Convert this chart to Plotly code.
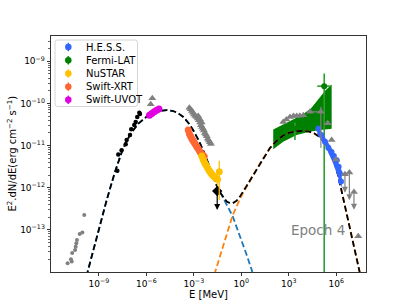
import numpy as np
import plotly.graph_objects as go

# ---------------- model curves (log10 E [MeV], log10 E^2 dN/dE) ----------------
tot_logE = [-9.78, -9.4, -9.03, -8.5, -8.0, -7.5, -7.0, -6.5, -6.0, -5.5, -5.0, -4.7, -4.3, -4.0,
            -3.66, -3.3, -3.0, -2.7, -2.4, -2.2, -1.98, -1.77, -1.55, -1.3, -1.1, -0.92, -0.75,
            -0.55, -0.3, -0.05, 0.3, 0.76, 1.3, 1.81, 2.3, 2.65, 3.0, 3.5, 3.9, 4.3, 4.6, 4.97,
            5.3, 5.6, 5.9, 6.13, 6.35, 6.55, 6.76, 7.0, 7.46, 7.55]
tot_logF = [-14.1, -13.55, -13.0, -12.29, -11.65, -11.1, -10.72, -10.48, -10.32, -10.22, -10.17,
            -10.16, -10.18, -10.23, -10.32, -10.48, -10.66, -10.87, -11.12, -11.3, -11.52, -11.74,
            -11.95, -12.13, -12.24, -12.33, -12.36, -12.37, -12.31, -12.19, -11.98, -11.7, -11.35,
            -11.06, -10.86, -10.76, -10.7, -10.66, -10.65, -10.67, -10.71, -10.8, -10.95, -11.16,
            -11.42, -11.72, -12.1, -12.45, -12.82, -13.22, -13.98, -14.12]

sync_logE = [-9.78, -9.4, -9.03, -8.5, -8.0, -7.5, -7.0, -6.5, -6.0, -5.5, -5.0, -4.7, -4.3, -4.0,
             -3.66, -3.3, -3.0, -2.7, -2.4, -2.2, -1.98, -1.77, -1.55, -1.3, -1.1, -0.92, -0.75,
             -0.55, -0.3, 0.0, 0.3, 0.66, 0.75]
sync_logF = [-14.1, -13.55, -13.0, -12.29, -11.65, -11.1, -10.72, -10.48, -10.32, -10.22, -10.17,
             -10.16, -10.18, -10.23, -10.32, -10.48, -10.66, -10.87, -11.12, -11.3, -11.52, -11.74,
             -11.95, -12.13, -12.27, -12.41, -12.52, -12.67, -12.93, -13.23, -13.55, -13.95, -14.07]

ic_logE = [-1.7, -1.3, -0.9, -0.55, -0.3, -0.05, 0.3, 0.76, 1.3, 1.81, 2.3, 2.65, 3.0, 3.5, 3.9,
           4.3, 4.6, 4.97, 5.3, 5.6, 5.9, 6.13, 6.35, 6.55, 6.76, 7.0, 7.46, 7.55]
ic_logF = [-14.06, -13.58, -13.1, -12.66, -12.45, -12.24, -12.0, -11.7, -11.35, -11.06, -10.86,
           -10.76, -10.7, -10.66, -10.65, -10.67, -10.71, -10.8, -10.95, -11.16, -11.42, -11.72,
           -12.1, -12.45, -12.82, -13.22, -13.98, -14.12]

# ---------------- data ----------------
hess_logE = [4.87, 5.05, 5.29, 5.5, 5.7, 5.85, 6.03, 6.15, 6.23, 6.3]
hess_logF = [-10.6, -10.75, -10.91, -11.05, -11.15, -11.25, -11.35, -11.5, -11.66, -11.85]
hess_band_logE = [4.8, 5.3, 5.8, 6.35, 6.35, 5.8, 5.3, 4.8]
hess_band_logF = [-10.5, -10.82, -11.12, -11.6, -12.0, -11.42, -11.0, -10.72]

fermi_band_logE = [2.02, 3.0, 3.8, 4.4, 4.9, 5.3, 5.71, 5.71, 5.0, 4.3, 3.5, 2.65, 2.02]
fermi_band_logF = [-10.62, -10.44, -10.28, -10.12, -9.9, -9.7, -9.55, -10.6, -10.63, -10.67,
                   -10.75, -10.91, -11.09]
fermi_logE = [3.39, 5.24]
fermi_logF = [-10.6, -9.59]
fermi_logF_hi = [-10.45, -9.29]
fermi_logF_lo = [-10.87, -16.0]
fermi_logE_lo = [3.39, 4.8]
fermi_logE_hi = [3.39, 5.7]

nustar_logE = [-2.5, -2.42, -2.35, -2.28, -2.2, -2.12, -2.05, -1.97, -1.9, -1.82, -1.74, -1.66,
               -1.58, -1.5, -1.39]
nustar_logF = [-11.25, -11.32, -11.38, -11.43, -11.48, -11.53, -11.58, -11.62, -11.66, -11.7,
               -11.73, -11.76, -11.78, -11.8, -11.62]
nustar_logF_hi = [-11.22, -11.29, -11.35, -11.4, -11.45, -11.5, -11.55, -11.58, -11.62, -11.65,
                  -11.68, -11.7, -11.72, -11.72, -11.36]
nustar_logF_lo = [-11.28, -11.35, -11.41, -11.46, -11.51, -11.56, -11.61, -11.66, -11.7, -11.75,
                  -11.78, -11.82, -11.86, -11.95, -12.29]

xrt_logE = [-3.35, -3.28, -3.2, -3.12, -3.05, -2.97, -2.9, -2.82, -2.75, -2.68, -2.6, -2.52,
            -2.44, -2.34]
xrt_logF = [-10.63, -10.72, -10.78, -10.84, -10.88, -10.93, -10.97, -11.02, -11.06, -11.1,
            -11.15, -11.2, -11.22, -11.26]

uvot_logE = [-5.8, -5.65, -5.5, -5.35, -5.2]
uvot_logF = [-10.28, -10.24, -10.2, -10.16, -10.13]

black_logE = [-7.83, -7.77, -7.56, -7.30, -7.24, -7.03, -6.95, -6.76, -6.67, -6.57, -6.44, -6.40]
black_logF = [-11.6, -11.21, -11.11, -10.97, -10.87, -10.75, -10.61, -10.51, -10.44, -10.32,
              -10.22, -10.25]
black_ul_logE = [-1.52]
black_ul_logF = [-12.08]
black_ul_logF_lo = [-12.53]

gray_dot_logE = [-9.92, -10.04, -10.21, -10.38, -10.42, -10.46, -10.5, -10.68, -10.76, -10.71, -10.97]
gray_dot_logF = [-12.65, -13.06, -13.10, -13.24, -13.32, -13.40, -13.48, -13.55, -13.70, -13.75, -13.79]

gray_tri_logE = [-5.62, -5.72,
                 -3.28, -3.2, -3.12, -3.05, -2.98, -2.9, -2.82, -2.75, -2.68, -2.6, -2.55, -2.48,
                 -2.42, -2.36, -2.3, -2.24, -2.18, -2.12, -2.05, -1.98, -1.92, -2.72, -2.6, -2.5,
                 2.65, 2.85, 3.08, 3.3, 3.5, 3.7, 3.92, 4.34,
                 5.46, 5.71, 5.98, 7.39]
gray_tri_logF = [-9.88, -10.02,
                 -10.1, -10.14, -10.18, -10.22, -10.26, -10.3, -10.32, -10.36, -10.4, -10.45,
                 -10.52, -10.56, -10.6, -10.64, -10.7, -10.74, -10.78, -10.84, -10.88, -10.92,
                 -10.96, -10.3, -10.38, -10.45,
                 -10.44, -10.38, -10.32, -10.3, -10.3, -10.29, -10.28, -10.2,
                 -10.47, -10.87, -11.33, -13.15]
gray_err_logE = [5.03]
gray_err_logF = [-10.2]
gray_err_logE_lo = [4.2]
gray_err_logE_hi = [5.15]
gray_err_logF_hi = [-10.08]
gray_err_logF_lo = [-11.05]
gray_ul_logE = [6.55, 6.83, 7.12]
gray_ul_logF = [-11.68, -11.64, -12.1]
gray_ul_logF_lo = [-12.12, -12.3, -12.52]

x_tick_exp = [-9, -6, -3, 0, 3, 6]
y_tick_exp = [-13, -12, -11, -10, -9]

legend_names = ["H.E.S.S.", "Fermi-LAT", "NuSTAR", "Swift-XRT", "Swift-UVOT"]

# ---------------- styles ----------------
C_HESS = "#3366ff"
C_FERMI = "#008000"
C_FERMI_LINE = "#2ca02c"
C_NU = "#ffc000"
C_XRT = "#ff6633"
C_UVOT = "#e000e0"
C_GRAY = "#808080"
legend_colors = [C_HESS, C_FERMI, C_NU, C_XRT, C_UVOT]
FONT = "DejaVu Sans"

W, H = 407, 305
L, R, T, B = 51, 366, 36, 272


def p(a):
    return 10.0 ** np.asarray(a, dtype=float)


def paper(xp, yp):
    return (xp - L) / (R - L), (B - yp) / (B - T)


fig = go.Figure()

# Fermi bowtie
fig.add_trace(go.Scatter(x=p(fermi_band_logE), y=p(fermi_band_logF), mode="lines", fill="toself",
                         fillcolor=C_FERMI, line=dict(width=0, color=C_FERMI), hoverinfo="skip"))
# Fermi points
fx, fy = p(fermi_logE), p(fermi_logF)
fig.add_trace(go.Scatter(
    x=fx, y=fy, mode="markers",
    marker=dict(color=C_FERMI, size=6, symbol="circle"),
    error_y=dict(type="data", array=p(fermi_logF_hi) - fy, arrayminus=fy - p(fermi_logF_lo),
                 color=C_FERMI_LINE, thickness=1.6, width=0),
    error_x=dict(type="data", array=p(fermi_logE_hi) - fx, arrayminus=fx - p(fermi_logE_lo),
                 color=C_FERMI_LINE, thickness=1.6, width=0)))

# model curves
DASH = "6px,3px"
fig.add_trace(go.Scatter(x=p(sync_logE), y=p(sync_logF), mode="lines",
                         line=dict(color="#1f77b4", width=1.8, dash=DASH)))
fig.add_trace(go.Scatter(x=p(ic_logE), y=p(ic_logF), mode="lines",
                         line=dict(color="#ff7f0e", width=1.8, dash=DASH)))
fig.add_trace(go.Scatter(x=p(tot_logE), y=p(tot_logF), mode="lines",
                         line=dict(color="black", width=1.8, dash=DASH)))

# HESS band + points
fig.add_trace(go.Scatter(x=p(hess_band_logE), y=p(hess_band_logF), mode="lines", fill="toself",
                         fillcolor=C_HESS, line=dict(width=0, color=C_HESS)))
hy = p(hess_logF)
fig.add_trace(go.Scatter(x=p(hess_logE), y=hy, mode="markers",
                         marker=dict(color=C_HESS, size=6),
                         error_y=dict(type="data", array=hy * (10 ** 0.06 - 1),
                                      arrayminus=hy * (1 - 10 ** -0.06),
                                      color=C_HESS, thickness=1.3, width=0)))

# gray archival
fig.add_trace(go.Scatter(x=p(gray_dot_logE), y=p(gray_dot_logF), mode="markers",
                         marker=dict(color=C_GRAY, size=4)))
gex, gey = p(gray_err_logE), p(gray_err_logF)
fig.add_trace(go.Scatter(
    x=gex, y=gey, mode="markers",
    marker=dict(color=C_GRAY, size=7, symbol="triangle-up"),
    error_y=dict(type="data", array=p(gray_err_logF_hi) - gey, arrayminus=gey - p(gray_err_logF_lo),
                 color=C_GRAY, thickness=1.2, width=0),
    error_x=dict(type="data", array=p(gray_err_logE_hi) - gex, arrayminus=gex - p(gray_err_logE_lo),
                 color=C_GRAY, thickness=1.2, width=0)))
fig.add_trace(go.Scatter(x=p(gray_tri_logE), y=p(gray_tri_logF), mode="markers",
                         marker=dict(color=C_GRAY, size=7, symbol="triangle-up")))
fig.add_trace(go.Scatter(x=p(gray_ul_logE), y=p(gray_ul_logF), mode="markers",
                         marker=dict(color=C_GRAY, size=7, symbol="triangle-up")))

# black optical points
fig.add_trace(go.Scatter(x=p(black_logE), y=p(black_logF), mode="markers",
                         marker=dict(color="black", size=4.5)))
fig.add_trace(go.Scatter(x=p(black_ul_logE), y=p(black_ul_logF), mode="markers",
                         marker=dict(color="black", size=8, symbol="diamond")))

# X-ray / UV
fig.add_trace(go.Scatter(x=p(xrt_logE), y=p(xrt_logF), mode="markers",
                         marker=dict(color=C_XRT, size=7)))
ny = p(nustar_logF)
fig.add_trace(go.Scatter(x=p(nustar_logE), y=ny, mode="markers",
                         marker=dict(color=C_NU, size=7),
                         error_y=dict(type="data", array=p(nustar_logF_hi) - ny,
                                      arrayminus=ny - p(nustar_logF_lo),
                                      color=C_NU, thickness=1.3, width=0)))
fig.add_trace(go.Scatter(x=p(uvot_logE), y=p(uvot_logF), mode="markers",
                         marker=dict(color=C_UVOT, size=7)))

annotations = []
# upper-limit arrows
for xe, ye, yl, col in ([(a, b, c, C_GRAY) for a, b, c in zip(gray_ul_logE, gray_ul_logF, gray_ul_logF_lo)]
                        + [(a, b, c, "black") for a, b, c in zip(black_ul_logE, black_ul_logF, black_ul_logF_lo)]):
    annotations.append(dict(x=xe, y=yl, ax=xe, ay=ye, xref="x", yref="y", axref="x", ayref="y",
                            showarrow=True, arrowhead=2, arrowsize=1, arrowwidth=1.2,
                            arrowcolor=col, text=""))

annotations.append(dict(x=3, y=-13, xref="x", yref="y", text="Epoch 4", showarrow=False,
                        xanchor="left", yanchor="middle",
                        font=dict(family=FONT, size=13.5, color=C_GRAY)))

# axis titles
ax_, ay_ = paper((L + R) / 2, 294)
annotations.append(dict(x=ax_, y=ay_, xref="paper", yref="paper",
                        text="E [MeV]", showarrow=False, xanchor="center", yanchor="middle",
                        font=dict(family=FONT, size=10, color="black")))
bx_, by_ = paper(11.5, (T + B) / 2)
annotations.append(dict(x=bx_, y=by_, xref="paper", yref="paper",
                        text="E<sup>2</sup>.dN/dE(erg cm<sup>−2</sup> s<sup>−1</sup>)",
                        showarrow=False, textangle=-90, xanchor="center", yanchor="middle",
                        font=dict(family=FONT, size=10, color="black")))

# manual legend (pixel layout in overlay axes)
leg_rows = [47.0, 60.3, 73.5, 86.7, 99.8]
for i, (name, col) in enumerate(zip(legend_names, legend_colors)):
    fig.add_trace(go.Scatter(x=[68.3], y=[leg_rows[i]], xaxis="x2", yaxis="y2", mode="markers",
                             marker=dict(color=col, size=6.5),
                             error_y=dict(type="constant", value=4.2, color=col, thickness=1.5, width=0)))
    annotations.append(dict(x=83.5, y=leg_rows[i], xref="x2", yref="y2", text=name,
                            showarrow=False, xanchor="left", yanchor="middle",
                            font=dict(family=FONT, size=10, color="black")))

x0, y0, x1, y1, r = 55.0, 40.0, 137.5, 106.5, 2.5
path = (f"M {x0 + r},{y0} L {x1 - r},{y0} Q {x1},{y0} {x1},{y0 + r} L {x1},{y1 - r} "
        f"Q {x1},{y1} {x1 - r},{y1} L {x0 + r},{y1} Q {x0},{y1} {x0},{y1 - r} "
        f"L {x0},{y0 + r} Q {x0},{y0} {x0 + r},{y0} Z")
shapes = [dict(type="path", path=path, xref="x2", yref="y2", line=dict(color="#cccccc", width=0.8),
               fillcolor="rgba(255,255,255,0.8)", layer="below")]

minor_y = [k * 10.0 ** n for n in range(-15, -8) for k in range(2, 10)]

fig.update_layout(
    width=W, height=H,
    margin=dict(l=L, r=W - R, t=T, b=H - B, pad=0),
    paper_bgcolor="white", plot_bgcolor="white",
    showlegend=False, template="none", hovermode=False,
    font=dict(family=FONT, size=9, color="black"),
    annotations=annotations, shapes=shapes,
    xaxis=dict(type="log", range=[-12.02, 7.88], tickmode="array",
               tickvals=[10.0 ** e for e in x_tick_exp],
               ticktext=[f"10<sup>{'−' if e < 0 else ''}{abs(e)}</sup>" for e in x_tick_exp],
               ticks="outside", ticklen=3.5, tickwidth=0.8, tickcolor="black",
               showline=True, linecolor="black", linewidth=0.8, mirror=True,
               showgrid=False, zeroline=False, automargin=False,
               tickfont=dict(family=FONT, size=9, color="black")),
    yaxis=dict(type="log", range=[-14.0, -8.4], tickmode="array",
               tickvals=[10.0 ** e for e in y_tick_exp],
               ticktext=[f"10<sup>−{abs(e)}</sup>" for e in y_tick_exp],
               ticks="outside", ticklen=3.5, tickwidth=0.8, tickcolor="black",
               minor=dict(tickmode="array", tickvals=minor_y, ticks="outside", ticklen=2,
                          tickwidth=0.6, tickcolor="black", showgrid=False),
               showline=True, linecolor="black", linewidth=0.8, mirror=True,
               showgrid=False, zeroline=False, automargin=False,
               tickfont=dict(family=FONT, size=9, color="black")),
    xaxis2=dict(overlaying="x", anchor="y2", range=[L, R], visible=False, showgrid=False,
                zeroline=False),
    yaxis2=dict(overlaying="y", anchor="x2", range=[B, T], visible=False, showgrid=False,
                zeroline=False),
)

fig.write_html("out.html", config={"displayModeBar": False, "staticPlot": True},
               post_script="document.body.style.margin='0';document.body.style.overflow='hidden';")
